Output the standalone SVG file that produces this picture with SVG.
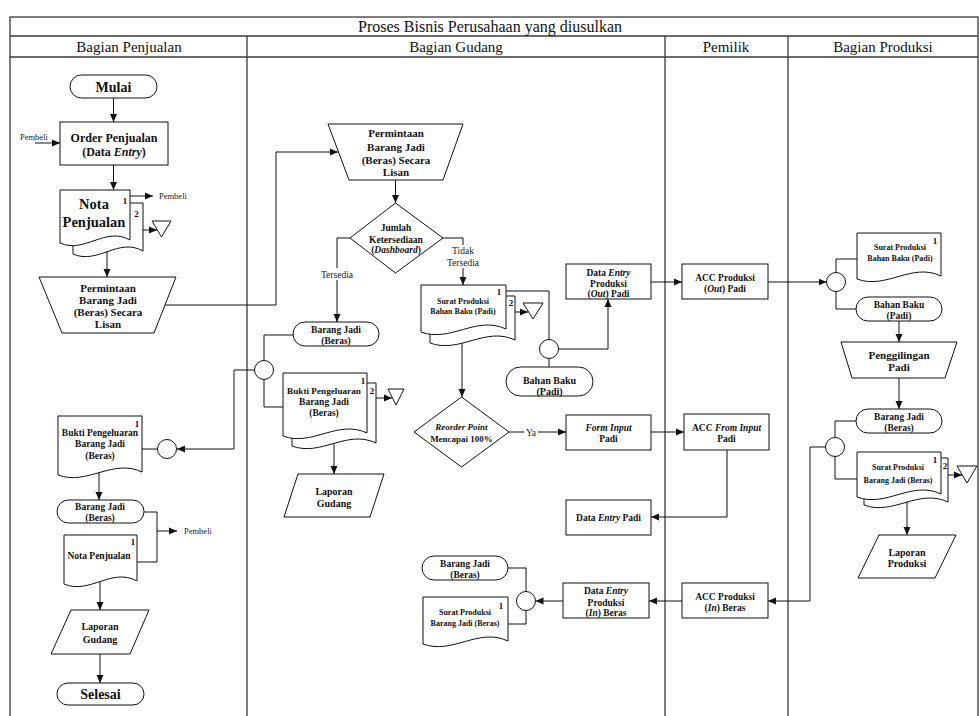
<svg xmlns="http://www.w3.org/2000/svg" width="979" height="716" viewBox="0 0 979 716">
  <style>
    .frame { fill: none; stroke: #3a3a3a; stroke-width: 1.3; }
    .hd { font-family: "Liberation Serif", "Times New Roman", serif; font-size: 15px; fill: #111; text-anchor: middle; }
    .ttl { font-family: "Liberation Serif", "Times New Roman", serif; font-size: 16px; fill: #111; text-anchor: middle; }
    .shape { fill: #fff; stroke: #111; stroke-width: 1; }
    .t { font-family: "Liberation Serif", "Times New Roman", serif; font-weight: bold; fill: #111; text-anchor: middle; font-size: 9.5px; }
    .big { font-size: 14px; }
    .mid { font-size: 11px; }
    .sm { font-size: 8px; }
    .num { font-size: 9px; }
    .lbl { font-family: "Liberation Serif", "Times New Roman", serif; fill: #222; font-size: 9.5px; text-anchor: middle; }
    .ext { font-family: "Liberation Serif", "Times New Roman", serif; fill: #222; font-size: 8.5px; }
    .conn path { fill: none; stroke: #111; stroke-width: 1; }
    .conn path.a { marker-end: url(#arr); }
  </style>
  <defs>
    <marker id="arr" markerWidth="9" markerHeight="8" refX="8" refY="4" orient="auto" markerUnits="userSpaceOnUse">
      <path d="M0,0.5 L8,4 L0,7.5 Z" fill="#111"/>
    </marker>
  </defs>

  <rect width="979" height="716" fill="#fff"/>

  <!-- swimlane frame -->
  <g id="frame">
    <rect class="frame" x="10" y="17" width="968" height="710"/>
    <line class="frame" x1="10" y1="36" x2="978" y2="36"/>
    <line class="frame" x1="10" y1="57" x2="978" y2="57"/>
    <line class="frame" x1="247" y1="36" x2="247" y2="716"/>
    <line class="frame" x1="665" y1="36" x2="665" y2="716"/>
    <line class="frame" x1="788" y1="36" x2="788" y2="716"/>
    <text class="ttl" x="490" y="32">Proses Bisnis Perusahaan yang diusulkan</text>
    <text class="hd" x="129" y="52">Bagian Penjualan</text>
    <text class="hd" x="456" y="52">Bagian Gudang</text>
    <text class="hd" x="726" y="52">Pemilik</text>
    <text class="hd" x="883" y="52">Bagian Produksi</text>
  </g>

  <!-- connectors -->
  <g id="connectors" class="conn">
    <path class="a" d="M113.5,98 V122"/>
    <path class="a" d="M35,143 H60"/>
    <path class="a" d="M113.5,165 V190"/>
    <path class="a" d="M130,196 H153"/>
    <path class="a" d="M143,230 H157"/>
    <path class="a" d="M107,250 V277"/>
    <path class="a" d="M160,305 H276 V152 H338"/>
    <path d="M264,370 H234 V449 H190"/>
    <path class="a" d="M190,449 H177"/>
    <path d="M140,449 H160"/>
    <path class="a" d="M99,470 V500"/>
    <path d="M144,512 H157 V562 H135"/>
    <path class="a" d="M157,531 H177"/>
    <path class="a" d="M100,580 V610"/>
    <path class="a" d="M100,654 V683"/>

    <path class="a" d="M395.5,178 V203"/>
    <path class="a" d="M352,238 H337 V322"/>
    <path class="a" d="M441,238 H463 V285"/>
    <path d="M295,335 H264 V407 H285"/>
    <path class="a" d="M374,398 H392"/>
    <path class="a" d="M334,440 V474"/>
    <path d="M504,291 H549 V367"/>
    <path class="a" d="M549,349 H608 V299"/>
    <path class="a" d="M513,312 H528"/>
    <path class="a" d="M462,338 V397"/>
    <path class="a" d="M508,432 H566"/>
    <path class="a" d="M651,432 H684"/>
    <path class="a" d="M651,282 H682"/>
    <path class="a" d="M768,282 H826.5"/>
    <path d="M836,282 V259 H859"/>
    <path d="M836,282 V309 H858"/>
    <path class="a" d="M899,321 V342"/>
    <path class="a" d="M899,378 V409"/>
    <path d="M858,421 H835 V479 H859"/>
    <path class="a" d="M946,475 H962"/>
    <path class="a" d="M907,500 V535"/>
    <path class="a" d="M835,447 H810 V601 H768"/>
    <path class="a" d="M727,450 V517 H651"/>
    <path class="a" d="M682,601 H649"/>
    <path class="a" d="M563,601 H535.5"/>
    <path d="M526,601 V568 H506"/>
    <path d="M526,601 V624 H506"/>
  </g>

  <!-- connector labels -->
  <g id="labels">
    <rect x="320" y="268" width="34" height="12" fill="#fff"/>
    <text class="lbl" x="337" y="277.5">Tersedia</text>
    <rect x="446" y="245" width="34" height="23" fill="#fff"/>
    <text class="lbl" x="463" y="254">Tidak</text>
    <text class="lbl" x="463" y="266">Tersedia</text>
    <rect x="524" y="427" width="14" height="11" fill="#fff"/>
    <text class="lbl" x="531" y="435.5">Ya</text>
    <text class="ext" x="20" y="140">Pembeli</text>
    <text class="ext" x="159" y="199">Pembeli</text>
    <text class="ext" x="184" y="534">Pembeli</text>
  </g>

  <!-- Bagian Penjualan -->
  <g id="mulai">
    <rect class="shape" x="70" y="75" width="87" height="23" rx="11.5"/>
    <text class="t big" x="113.5" y="91.5">Mulai</text>
  </g>
  <g id="order-penjualan">
    <rect class="shape" x="60" y="122" width="108" height="43"/>
    <text class="t" style="font-size:12px" x="114" y="142">Order Penjualan</text>
    <text class="t" style="font-size:12px" x="114" y="156">(Data <tspan font-style="italic">Entry</tspan>)</text>
  </g>
  <g id="nota-penjualan">
    <path class="shape" d="M73,203 H143 V251 C118.5,237 97.5,265 73,254 Z"/>
    <path class="shape" d="M60,190 H130 V240 C105.5,226 84.5,254 60,243 Z"/>
    <text class="t" style="font-size:14.5px" x="94" y="209">Nota</text>
    <text class="t" style="font-size:14.5px" x="94" y="227">Penjualan</text>
    <text class="t num" x="125" y="204">1</text>
    <text class="t num" x="136.5" y="217">2</text>
  </g>
  <g id="arsip-nota">
    <path class="shape" d="M152,221 H171 L161.5,237 Z"/>
  </g>
  <g id="permintaan-penjualan">
    <path class="shape" d="M39,277 H176 L154,333 H62 Z"/>
    <text class="t mid" x="108" y="291.5">Permintaan</text>
    <text class="t mid" x="108" y="304">Barang Jadi</text>
    <text class="t mid" x="108" y="316">(Beras) Secara</text>
    <text class="t mid" x="108" y="328">Lisan</text>
  </g>
  <g id="gabung-penjualan">
    <circle class="shape" cx="167" cy="449" r="9.5"/>
  </g>
  <g id="bukti-penjualan">
    <path class="shape" d="M58,416 H142 V472 C112.6,458 87.4,486 58,475 Z"/>
    <text class="t" x="100" y="435.5">Bukti Pengeluaran</text>
    <text class="t" x="100" y="447">Barang Jadi</text>
    <text class="t" x="100" y="459">(Beras)</text>
    <text class="t num" x="137" y="426.5">1</text>
  </g>
  <g id="barang-jadi-penjualan">
    <rect class="shape" x="57" y="500" width="87" height="23" rx="11.5"/>
    <text class="t" x="100" y="509.5">Barang Jadi</text>
    <text class="t" x="100" y="521">(Beras)</text>
  </g>
  <g id="nota-penjualan-akhir">
    <path class="shape" d="M64,535 H137 V581 C111.45,567 89.55,595 64,584 Z"/>
    <text class="t" x="99" y="559">Nota Penjualan</text>
    <text class="t num" x="133" y="545">1</text>
  </g>
  <g id="laporan-penjualan">
    <path class="shape" d="M71,610 H149 L130,654 H51 Z"/>
    <text class="t" style="font-size:10px" x="100" y="630">Laporan</text>
    <text class="t" style="font-size:10px" x="100" y="642.5">Gudang</text>
  </g>
  <g id="selesai">
    <rect class="shape" x="57" y="683" width="87" height="22" rx="11"/>
    <text class="t big" x="100.5" y="699">Selesai</text>
  </g>

  <!-- Bagian Gudang -->
  <g id="permintaan-gudang">
    <path class="shape" d="M328,124 H463 L443,180 H349 Z"/>
    <text class="t mid" x="396" y="137">Permintaan</text>
    <text class="t mid" x="396" y="150.5">Barang Jadi</text>
    <text class="t mid" x="396" y="163.5">(Beras) Secara</text>
    <text class="t mid" x="396" y="176">Lisan</text>
  </g>
  <g id="jumlah-ketersediaan">
    <path class="shape" d="M395.5,203 L443,238 L395.5,273 L350,238 Z"/>
    <text class="t" x="396" y="230.5">Jumlah</text>
    <text class="t" x="396" y="242.5">Ketersediaan</text>
    <text class="t" x="396" y="252.5">(<tspan font-style="italic">Dashboard</tspan>)</text>
  </g>
  <g id="barang-jadi-gudang">
    <rect class="shape" x="293" y="322" width="86" height="24" rx="12"/>
    <text class="t" x="336" y="332.5">Barang Jadi</text>
    <text class="t" x="336" y="344">(Beras)</text>
  </g>
  <g id="gabung-gudang">
    <circle class="shape" cx="264" cy="370" r="9.5"/>
  </g>
  <g id="bukti-gudang">
    <path class="shape" d="M292,383 H376 V443 C346.6,429 321.4,457 292,446 Z"/>
    <path class="shape" d="M283,373 H367 V433 C337.6,419 312.4,447 283,436 Z"/>
    <text class="t" style="font-size:9.2px" x="324" y="393.5">Bukti Pengeluaran</text>
    <text class="t" x="324" y="405">Barang Jadi</text>
    <text class="t" x="324" y="416">(Beras)</text>
    <text class="t num" x="363" y="384">1</text>
    <text class="t num" x="372" y="394">2</text>
  </g>
  <g id="arsip-bukti">
    <path class="shape" d="M388,389 H404 L396,405 Z"/>
  </g>
  <g id="laporan-gudang">
    <path class="shape" d="M298,474 H384 L370,517 H284 Z"/>
    <text class="t" style="font-size:10px" x="334" y="494.5">Laporan</text>
    <text class="t" style="font-size:10px" x="334" y="506.5">Gudang</text>
  </g>
  <g id="surat-bahan-baku-gudang">
    <path class="shape" d="M430,296 H515 V340 C485.25,326 459.75,354 430,343 Z"/>
    <path class="shape" d="M421,285 H506 V329 C476.25,315 450.75,343 421,332 Z"/>
    <text class="t sm" x="463" y="304">Surat Produksi</text>
    <text class="t sm" x="463" y="314">Bahan Baku (Padi)</text>
    <text class="t num" x="499" y="295">1</text>
    <text class="t num" x="511" y="306">2</text>
  </g>
  <g id="arsip-surat-bahan-baku">
    <path class="shape" d="M523,303 H543 L533,319 Z"/>
  </g>
  <g id="gabung-bahan-baku">
    <circle class="shape" cx="549" cy="349" r="9.5"/>
  </g>
  <g id="bahan-baku-gudang">
    <rect class="shape" x="506" y="367" width="87" height="29" rx="14.5"/>
    <text class="t" style="font-size:10px" x="549.5" y="383.5">Bahan Baku</text>
    <text class="t" style="font-size:10px" x="549.5" y="395">(Padi)</text>
  </g>
  <g id="data-entry-out">
    <rect class="shape" x="566" y="264" width="85" height="35"/>
    <text class="t" x="608.5" y="275.5">Data <tspan font-style="italic">Entry</tspan></text>
    <text class="t" x="608.5" y="286.5">Produksi</text>
    <text class="t" x="608.5" y="296.5">(<tspan font-style="italic">Out</tspan>) Padi</text>
  </g>
  <g id="reorder-point">
    <path class="shape" d="M461.5,397 L509,432 L461.5,467 L414,432 Z"/>
    <text class="t" style="font-size:9px" x="461.5" y="429.5"><tspan font-style="italic">Reorder Point</tspan></text>
    <text class="t" style="font-size:9px" x="461.5" y="441.5">Mencapai 100%</text>
  </g>
  <g id="form-input">
    <rect class="shape" x="566" y="415" width="85" height="35"/>
    <text class="t" x="608.5" y="430.5"><tspan font-style="italic">Form Input</tspan></text>
    <text class="t" x="608.5" y="441.5">Padi</text>
  </g>
  <g id="data-entry-padi">
    <rect class="shape" x="566" y="500" width="85" height="35"/>
    <text class="t" x="608.5" y="521">Data <tspan font-style="italic">Entry</tspan> Padi</text>
  </g>
  <g id="data-entry-in">
    <rect class="shape" x="563" y="583" width="86" height="35"/>
    <text class="t" x="606" y="593.5">Data <tspan font-style="italic">Entry</tspan></text>
    <text class="t" x="606" y="605.5">Produksi</text>
    <text class="t" x="606" y="615.5">(<tspan font-style="italic">In</tspan>) Beras</text>
  </g>
  <g id="gabung-beras">
    <circle class="shape" cx="526" cy="601" r="9.5"/>
  </g>
  <g id="barang-jadi-masuk">
    <rect class="shape" x="422" y="556" width="86" height="24" rx="12"/>
    <text class="t" x="465" y="566.5">Barang Jadi</text>
    <text class="t" x="465" y="577.5">(Beras)</text>
  </g>
  <g id="surat-barang-jadi-gudang">
    <path class="shape" d="M423,597 H508 V641 C478.25,627 452.75,655 423,644 Z"/>
    <text class="t sm" x="465" y="615">Surat Produksi</text>
    <text class="t sm" x="465" y="626">Barang Jadi (Beras)</text>
    <text class="t num" x="501" y="609">1</text>
  </g>

  <!-- Pemilik -->
  <g id="acc-produksi-out">
    <rect class="shape" x="682" y="264" width="86" height="35"/>
    <text class="t" x="725" y="280.5">ACC Produksi</text>
    <text class="t" x="725" y="291.5">(<tspan font-style="italic">Out</tspan>) Padi</text>
  </g>
  <g id="acc-form-input">
    <rect class="shape" x="684" y="414" width="85" height="36"/>
    <text class="t" x="726.5" y="430.5">ACC <tspan font-style="italic">From Input</tspan></text>
    <text class="t" x="726.5" y="441.5">Padi</text>
  </g>
  <g id="acc-produksi-in">
    <rect class="shape" x="682" y="583" width="86" height="35"/>
    <text class="t" x="725" y="599.5">ACC Produksi</text>
    <text class="t" x="725" y="611">(<tspan font-style="italic">In</tspan>) Beras</text>
  </g>

  <!-- Bagian Produksi -->
  <g id="gabung-produksi-out">
    <circle class="shape" cx="836" cy="282" r="9.5"/>
  </g>
  <g id="surat-bahan-baku-produksi">
    <path class="shape" d="M857,233 H941 V276 C911.6,262 886.4,290 857,279 Z"/>
    <text class="t sm" x="900" y="250">Surat Produksi</text>
    <text class="t sm" x="900" y="261">Bahan Baku (Padi)</text>
    <text class="t num" x="935" y="244">1</text>
  </g>
  <g id="bahan-baku-produksi">
    <rect class="shape" x="856" y="297" width="86" height="24" rx="12"/>
    <text class="t" x="899" y="307.5">Bahan Baku</text>
    <text class="t" x="899" y="318.5">(Padi)</text>
  </g>
  <g id="penggilingan-padi">
    <path class="shape" d="M841,342 H957 L945,378 H852 Z"/>
    <text class="t mid" x="899" y="359">Penggilingan</text>
    <text class="t mid" x="899" y="371">Padi</text>
  </g>
  <g id="barang-jadi-produksi">
    <rect class="shape" x="856" y="409" width="86" height="24" rx="12"/>
    <text class="t" x="899" y="419.5">Barang Jadi</text>
    <text class="t" x="899" y="430.5">(Beras)</text>
  </g>
  <g id="gabung-produksi-in">
    <circle class="shape" cx="835" cy="447" r="9.5"/>
  </g>
  <g id="surat-barang-jadi-produksi">
    <path class="shape" d="M864,458 H948 V502 C918.6,488 893.4,516 864,505 Z"/>
    <path class="shape" d="M857,452 H941 V494 C911.6,480 886.4,508 857,497 Z"/>
    <text class="t sm" x="898" y="470">Surat Produksi</text>
    <text class="t sm" x="898" y="483">Barang Jadi (Beras)</text>
    <text class="t num" x="935" y="463">1</text>
    <text class="t num" x="945" y="469">2</text>
  </g>
  <g id="arsip-surat-barang-jadi">
    <path class="shape" d="M957,466 H977 L967,483 Z"/>
  </g>
  <g id="laporan-produksi">
    <path class="shape" d="M879,535 H956 L935,578 H858 Z"/>
    <text class="t" style="font-size:10px" x="907" y="555.5">Laporan</text>
    <text class="t" style="font-size:10px" x="907" y="567">Produksi</text>
  </g>
</svg>
